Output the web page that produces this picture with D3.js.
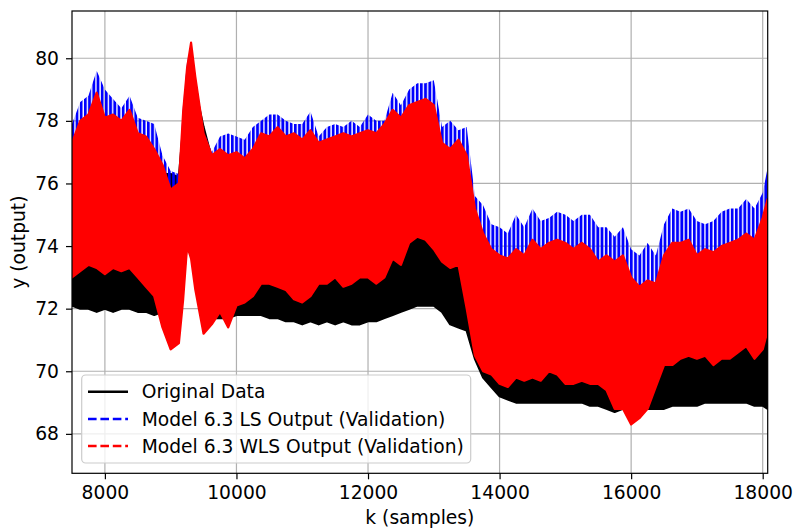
<!DOCTYPE html>
<html><head><meta charset="utf-8">
<script src="https://cdn.jsdelivr.net/npm/d3@7"></script>
<style>body{margin:0;background:#fff}svg{display:block}text{font-family:"DejaVu Sans",sans-serif;fill:#000}</style>
</head><body><svg id="chart" width="795" height="532"></svg>
<script>
// sample index (k) at which envelope values were read
const k = [7500,7625,7750,7875,8000,8125,8250,8375,8500,8625,8750,8875,9000,9125,9190,9250,9310,9375,9500,9625,9750,9875,10000,10125,10250,10375,10500,10625,10750,10875,11000,11125,11250,11375,11500,11625,11750,11875,12000,12125,12250,12375,12500,12625,12750,12875,13000,13125,13250,13375,13500,13625,13750,13875,14000,14125,14250,14375,14500,14625,14750,14875,15000,15125,15250,15375,15500,15625,15750,15875,16000,16125,16250,16375,16500,16625,16750,16875,17000,17125,17250,17375,17500,17625,17750,17875,18000,18075];
// Original data: min / max of the oscillation
const origHi = [77.0,77.6,77.8,78.3,77.7,77.8,77.6,77.9,77.2,77.1,76.7,76.3,76.3,76.2,77.8,79.2,79.9,79.0,77.8,76.8,76.7,76.5,76.6,76.4,76.7,77.1,77.0,77.3,77.0,77.1,76.9,77.2,76.8,76.9,77.0,77.1,77.0,77.1,77.2,77.1,77.4,77.8,77.6,78.0,78.1,78.2,78.0,76.9,76.7,76.8,76.2,74.5,73.8,73.3,73.1,73.0,73.2,73.0,73.3,73.1,73.2,73.3,73.2,73.0,73.1,73.0,72.7,72.8,72.6,72.7,72.2,72.0,72.1,72.0,72.6,72.9,72.9,73.0,72.8,72.9,72.9,73.0,73.1,73.2,73.3,73.2,73.6,74.0];
const origLo = [72.1,72.0,72.0,71.9,72.0,71.9,72.0,72.0,71.9,71.9,71.8,71.9,71.9,72.0,72.8,74.1,73.8,72.8,71.8,71.7,71.7,71.7,71.8,71.8,71.8,71.8,71.7,71.7,71.6,71.6,71.5,71.6,71.5,71.6,71.5,71.6,71.5,71.5,71.6,71.6,71.7,71.8,71.9,72.0,72.1,72.1,72.1,71.9,71.5,71.4,71.3,70.4,69.8,69.5,69.2,69.1,69.0,69.0,69.0,69.0,69.0,69.0,69.0,69.0,69.0,68.9,68.9,68.8,68.7,68.8,68.8,68.8,68.8,68.8,68.8,68.9,68.9,68.9,68.9,69.0,69.0,69.0,69.0,69.0,69.0,68.9,68.9,68.8];
// Model 6.3 LS output
const lsHi = [77.9,78.6,78.8,79.6,79.0,78.7,78.4,78.8,78.1,78.0,77.9,76.9,76.4,76.3,78.6,79.9,80.5,79.5,77.7,77.0,77.5,77.6,77.5,77.4,77.8,78.0,78.2,78.2,78.0,77.9,77.9,78.3,77.5,77.8,77.9,77.8,78.0,77.8,78.2,78.0,78.0,78.9,78.5,79.0,79.2,79.2,79.3,77.8,78.0,77.7,77.8,75.6,75.3,74.7,74.6,74.4,75.0,74.6,75.2,74.8,74.9,75.1,75.0,74.8,75.0,75.0,74.6,74.6,74.3,74.6,73.9,73.7,74.1,73.7,74.7,75.2,75.1,75.2,74.8,74.7,74.8,75.1,75.2,75.2,75.5,75.2,75.7,76.5];
const lsLo = [73.2,73.4,73.6,73.5,73.3,73.5,73.4,73.5,73.2,72.9,72.6,71.6,70.9,71.0,72.4,74.1,73.7,72.7,71.3,71.6,72.0,71.5,72.2,72.3,72.5,72.9,72.9,72.8,72.7,72.4,72.3,72.5,72.9,72.9,73.1,72.8,72.9,73.1,73.1,72.9,73.1,73.7,73.5,74.2,74.4,74.3,74.0,73.6,73.4,73.5,72.2,70.7,70.2,70.1,69.8,69.7,70.0,69.9,70.0,69.9,70.2,70.1,69.8,69.8,69.9,69.8,69.8,69.6,69.0,69.0,68.5,68.7,69.0,69.7,70.4,70.4,70.6,70.7,70.6,70.7,70.4,70.6,70.6,70.8,71.0,70.6,70.9,71.5];
// Model 6.3 WLS output
const wlsHi = [77.3,78.0,78.2,78.9,78.1,78.2,78.0,78.35,77.6,77.5,77.1,76.6,75.8,76.0,78.3,79.7,80.5,79.4,77.6,76.9,77.1,76.9,77.0,76.8,77.1,77.6,77.5,77.8,77.5,77.6,77.4,77.7,77.3,77.4,77.5,77.6,77.5,77.6,77.7,77.6,77.9,78.35,78.1,78.5,78.6,78.7,78.5,77.3,77.1,77.4,76.9,75.2,74.4,73.9,73.7,73.6,73.9,73.7,74.2,73.9,74.1,74.2,74.1,73.9,74.1,73.9,73.5,73.7,73.5,73.7,73.0,72.7,72.9,72.8,73.7,74.1,74.1,74.2,73.7,73.9,73.8,74.0,74.1,74.2,74.4,74.2,74.9,75.5];
const wlsLo = [73.0,73.2,73.4,73.3,73.1,73.3,73.2,73.3,73.0,72.7,72.4,71.4,70.7,70.9,72.3,74.0,73.6,72.6,71.2,71.5,71.9,71.4,72.1,72.2,72.4,72.8,72.8,72.7,72.6,72.3,72.2,72.4,72.8,72.8,73.0,72.7,72.8,73.0,73.0,72.8,73.0,73.6,73.4,74.1,74.3,74.2,73.9,73.5,73.3,73.4,72.0,70.5,70.0,69.9,69.6,69.5,69.8,69.7,69.8,69.7,70.0,69.9,69.6,69.6,69.7,69.6,69.6,69.4,68.8,68.8,68.3,68.5,68.8,69.5,70.2,70.2,70.4,70.5,70.4,70.5,70.2,70.4,70.4,70.6,70.8,70.4,70.7,71.3];

const xTicks = [8000,10000,12000,14000,16000,18000];
const yTicks = [68,70,72,74,76,78,80];
const seriesNames = ["Original Data","Model 6.3 LS Output (Validation)","Model 6.3 WLS Output (Validation)"];
const seriesColors = ["#000000","#0000ff","#ff0000"];
const FS = 18.7;

const svg = d3.select("#chart");
const L = 72, R = 767.7, T = 11, B = 473.3;
const x = d3.scaleLinear().domain([7500, 18076]).range([L, R]);
const y = d3.scaleLinear().domain([66.74, 81.51]).range([B, T]);

const defs = svg.append("defs");
defs.append("clipPath").attr("id","clip")
  .append("rect").attr("x",L).attr("y",T).attr("width",R-L).attr("height",B-T);
// dense oscillation texture for the blue band (only its top edge stays visible)
const pat = defs.append("pattern").attr("id","osc1").attr("patternUnits","userSpaceOnUse")
  .attr("width",4.2).attr("height",10);
pat.append("rect").attr("x",0).attr("y",0).attr("width",2.8).attr("height",10).attr("fill","#0000ff");

// grid
const grid = svg.append("g");
grid.selectAll("line.gx").data(xTicks).join("line")
  .attr("x1",d=>x(d)).attr("x2",d=>x(d)).attr("y1",T).attr("y2",B)
  .attr("stroke","#b0b0b0").attr("stroke-width",1.2);
grid.selectAll("line.gy").data(yTicks).join("line")
  .attr("y1",d=>y(d)).attr("y2",d=>y(d)).attr("x1",L).attr("x2",R)
  .attr("stroke","#b0b0b0").attr("stroke-width",1.2);

// series bands
const series = [
  {lo: origLo, hi: origHi, fill: "#000000"},
  {lo: lsLo, hi: lsHi, fill: "url(#osc1)"},
  {lo: wlsLo, hi: wlsHi, fill: "#ff0000"}
];
const dataG = svg.append("g").attr("clip-path","url(#clip)");
series.forEach((s, si) => {
  const pts = k.map((kk, i) => ({k: kk, lo: s.lo[i], hi: s.hi[i]}));
  const area = d3.area().x(d => x(d.k)).y0(d => y(d.lo)).y1(d => y(d.hi));
  dataG.append("path").datum(pts).attr("d", area)
    .attr("fill", s.fill)
    .attr("stroke", si === 1 ? "none" : seriesColors[si])
    .attr("stroke-width", 2.2).attr("stroke-linejoin","round");
});

// axes
const xAxis = d3.axisBottom(x).tickValues(xTicks).tickSize(6).tickPadding(6).tickFormat(d3.format("d"));
const yAxis = d3.axisLeft(y).tickValues(yTicks).tickSize(6).tickPadding(7).tickFormat(d3.format("d"));
const gx = svg.append("g").attr("transform",`translate(0,${B})`).call(xAxis);
const gy = svg.append("g").attr("transform",`translate(${L},0)`).call(yAxis);
[gx, gy].forEach(g => {
  g.select(".domain").remove();
  g.selectAll(".tick line").attr("stroke","#000").attr("stroke-width",1.2);
  g.selectAll(".tick text").attr("font-size",FS).attr("font-family","DejaVu Sans").attr("fill","#000");
});

// frame
svg.append("rect").attr("x",L).attr("y",T).attr("width",R-L).attr("height",B-T)
  .attr("fill","none").attr("stroke","#000").attr("stroke-width",1.2);

// axis labels
svg.append("text").attr("x",(L+R)/2).attr("y",524).attr("text-anchor","middle")
  .attr("font-size",FS).text("k (samples)");
svg.append("text").attr("transform",`translate(25,${(T+B)/2}) rotate(-90)`).attr("text-anchor","middle")
  .attr("font-size",FS).text("y (output)");

// legend
const lg = svg.append("g");
lg.append("rect").attr("x",81.7).attr("y",375).attr("width",389).attr("height",88).attr("rx",4)
  .attr("fill","#fff").attr("fill-opacity",0.8).attr("stroke","#cccccc").attr("stroke-width",1.2);
const ly = [391.7, 419, 446];
seriesNames.forEach((n, i) => {
  lg.append("line").attr("x1",88).attr("x2",128).attr("y1",ly[i]).attr("y2",ly[i])
    .attr("stroke",seriesColors[i]).attr("stroke-width",2.4)
    .attr("stroke-dasharray", i === 0 ? null : "8.6,3.8");
  lg.append("text").attr("x",141.7).attr("y",ly[i]+6.5).attr("font-size",FS).text(n);
});
</script>
</body></html>
